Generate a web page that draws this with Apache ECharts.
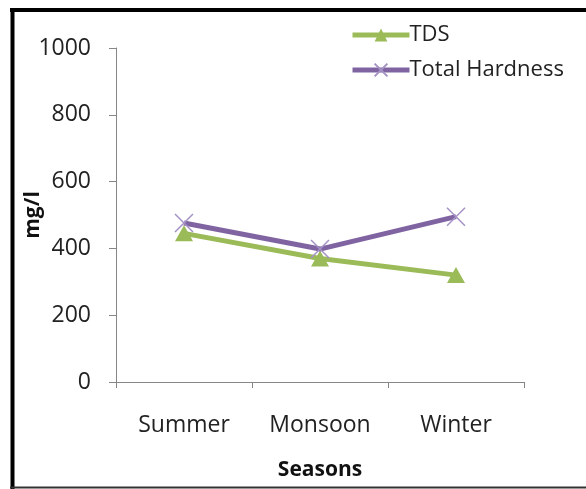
<!DOCTYPE html>
<html>
<head>
<meta charset="utf-8">
<script src="https://cdn.jsdelivr.net/npm/echarts@6/dist/echarts.min.js"></script>
<style>
  html, body { margin: 0; padding: 0; background: #fff; }
  #chart { width: 586px; height: 489px; }
</style>
</head>
<body>
<div id="chart"></div>
<script>
// Seasonal water quality (mg/l)
const seasons = ['Summer', 'Monsoon', 'Winter'];
const tds = [445, 370, 320];
const totalHardness = [476, 398, 495];
const yTicks = [0, 200, 400, 600, 800, 1000];

const FONT = '"Open Sans", "DejaVu Sans", sans-serif';
const AXIS_GREY = '#868686';

// open "x" cross used as the hardness marker
const crossSymbol = 'path://M0,0L10,10M10,0L0,10';

const chart = echarts.init(document.getElementById('chart'), null, { renderer: 'canvas' });

chart.setOption({
  animation: false,
  backgroundColor: '#ffffff',
  textStyle: { fontFamily: FONT },
  graphic: [
    // page frame (left, top, bottom)
    { type: 'line', shape: { x1: 12.5, y1: 8, x2: 12.5, y2: 489 }, style: { stroke: '#000', lineWidth: 4 } },
    { type: 'line', shape: { x1: 10, y1: 10, x2: 586, y2: 10 }, style: { stroke: '#000', lineWidth: 4 } },
    { type: 'line', shape: { x1: 10, y1: 487.5, x2: 586, y2: 487.5 }, style: { stroke: '#333', lineWidth: 2 } }
  ],
  grid: { left: 116, right: 62, top: 48, bottom: 107, containLabel: false },
  legend: {
    orient: 'vertical',
    left: 345,
    top: 19,
    itemWidth: 57,
    itemHeight: 16,
    itemGap: 13,
    lineStyle: { width: 5 },
    textStyle: { fontFamily: FONT, fontSize: 22, color: '#222', padding: [0, 0, 0, -5] },
    data: ['TDS', 'Total Hardness']
  },
  xAxis: {
    type: 'category',
    data: seasons,
    boundaryGap: true,
    name: 'Seasons',
    nameLocation: 'middle',
    nameGap: 78,
    nameMoveOverlap: false,
    nameTextStyle: { fontFamily: FONT, fontSize: 21, fontWeight: 'bold', color: '#111' },
    axisLine: { lineStyle: { color: AXIS_GREY, width: 1 } },
    axisTick: { show: true, alignWithLabel: false, length: 6, lineStyle: { color: AXIS_GREY } },
    axisLabel: { fontFamily: FONT, fontSize: 23, color: '#222', margin: 32 }
  },
  yAxis: {
    type: 'value',
    min: yTicks[0],
    max: yTicks[yTicks.length - 1],
    interval: yTicks[1] - yTicks[0],
    name: 'mg/l',
    nameLocation: 'middle',
    nameGap: 72,
    nameMoveOverlap: false,
    nameTextStyle: { fontFamily: FONT, fontSize: 21, fontWeight: 'bold', color: '#111' },
    axisLine: { show: true, lineStyle: { color: AXIS_GREY, width: 1 } },
    axisTick: { show: true, length: 7, lineStyle: { color: AXIS_GREY } },
    splitLine: { show: false },
    axisLabel: {
      fontFamily: FONT, fontSize: 23, color: '#222', margin: 25,
      formatter: (v) => String(v)
    }
  },
  series: [
    {
      name: 'TDS',
      type: 'line',
      data: tds,
      symbol: 'triangle',
      symbolSize: [18, 16],
      lineStyle: { color: '#9BBB59', width: 5 },
      itemStyle: { color: '#9BBB59' },
      z: 2
    },
    {
      name: 'Total Hardness',
      type: 'line',
      data: totalHardness,
      symbol: crossSymbol,
      symbolSize: 18,
      lineStyle: { color: '#8064A2', width: 5 },
      itemStyle: { color: 'rgba(0,0,0,0)', borderColor: '#A592C4', borderWidth: 1.5 },
      z: 3
    }
  ]
});
</script>
</body>
</html>
